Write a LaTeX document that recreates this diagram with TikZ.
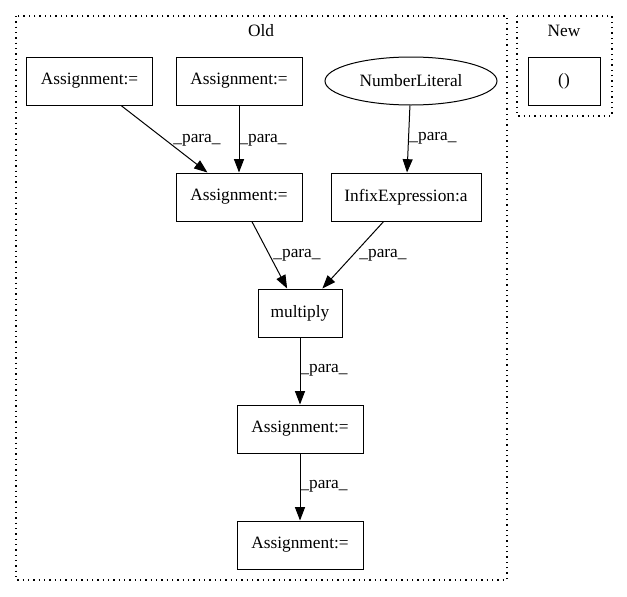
\documentclass[tikz,border=0pt]{standalone}
\usepackage{fontspec}
\setmainfont{Liberation Serif}
\usetikzlibrary{arrows.meta,shapes.geometric}
\begin{document}
\begin{tikzpicture}[x=0.75pt,y=-0.75pt,
  every node/.style={font=\fontsize{13}{15}\selectfont},
  box/.style={draw,rectangle,line width=0.75pt,minimum height=36pt,inner sep=0pt},
  oval/.style={draw,ellipse,line width=0.75pt,minimum height=36pt,inner sep=0pt},
  cluster/.style={draw,dash pattern=on 1pt off 3pt,line width=1pt},
  arr/.style={-{Triangle[length=10pt,width=7.5pt]},line width=0.75pt},
  lbl/.style={inner sep=0pt}]
\useasboundingbox (0,0) rectangle (627,596);
\draw[cluster] (16,16) rectangle (507,580);
\node (old) at (261,31) {Old};
\draw[cluster] (517,16) rectangle (612,116);
\node (new) at (564,31) {New};

\node[box,minimum width=94pt] (a1) at (89.5,81) {Assignment:=};
\node[box,minimum width=94.5pt] (a2) at (239,81) {Assignment:=};
\node[oval,minimum width=129pt] (nl) at (411,81) {NumberLiteral};
\node[box,minimum width=94.5pt] (a3) at (239,197) {Assignment:=};
\node[box,minimum width=112.5pt] (ie) at (406,197) {InfixExpression:a};
\node[box,minimum width=63pt] (mu) at (300,313) {multiply};
\node[box,minimum width=94.5pt] (a4) at (300,429) {Assignment:=};
\node[box,minimum width=94.5pt] (a5) at (300,545) {Assignment:=};
\node[box,minimum width=54pt] (pp) at (564,81) {()};

\draw[arr] (a1) -- (a3);
\draw[arr] (a2) -- (a3);
\draw[arr] (nl) -- (ie);
\draw[arr] (a3) -- (mu);
\draw[arr] (ie) -- (mu);
\draw[arr] (mu) -- (a4);
\draw[arr] (a4) -- (a5);

\node[lbl] (l1) at (197,140) {\_para\_};
\node[lbl] (l2) at (263,140) {\_para\_};
\node[lbl] (l3) at (433,138) {\_para\_};
\node[lbl] (l4) at (297,255) {\_para\_};
\node[lbl] (l5) at (383,255) {\_para\_};
\node[lbl] (l6) at (324,370) {\_para\_};
\node[lbl] (l7) at (324,486) {\_para\_};
\end{tikzpicture}
\end{document}
